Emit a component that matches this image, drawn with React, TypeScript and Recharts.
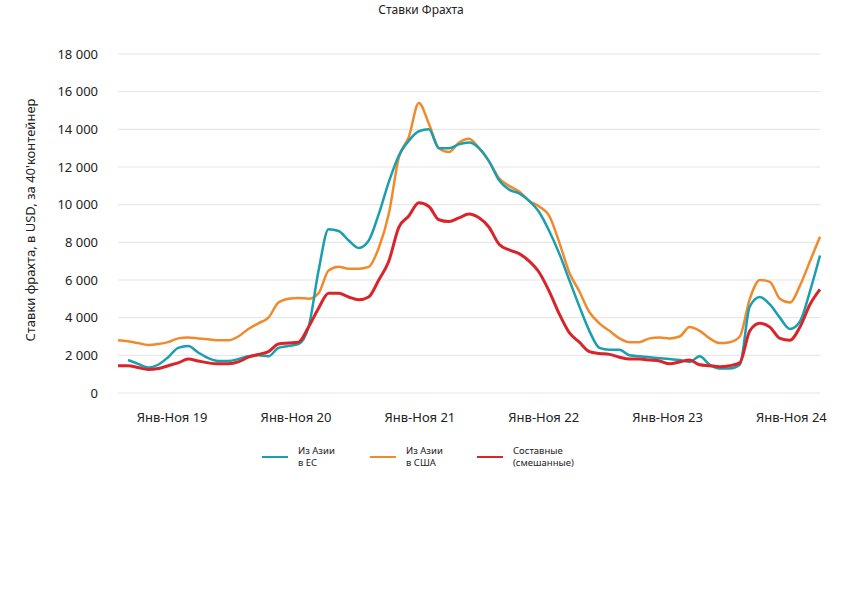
import React from "react";
import { LineChart, Line, XAxis, YAxis, CartesianGrid } from "recharts";

// monthly, Jan 2019 .. Nov 2024 (index 0..70)
const ASIA_EU: (number | null)[] = [
  null, 1750, 1550, 1350, 1500, 1900, 2400, 2500, 2150, 1850, 1700, 1700,
  1800, 1950, 2000, 1950, 2400, 2500, 2600, 3500, 6500, 8700, 8600, 8100,
  7700, 8100, 9500, 11200, 12600, 13400, 13900, 14000, 13000, 13000, 13200, 13300,
  13000, 12300, 11300, 10800, 10600, 10200, 9600, 8600, 7400, 6000, 4600, 3300,
  2400, 2300, 2300, 2000, 1950, 1900, 1850, 1800, 1750, 1650, 1950, 1500,
  1300, 1300, 1500, 4600, 5100, 4700, 4000, 3400, 3800, 5400, 7300,
];
const ASIA_US: number[] = [
  2800, 2750, 2650, 2550, 2600, 2700, 2900, 2950, 2900, 2850, 2800, 2800,
  3000, 3400, 3700, 4000, 4800, 5000, 5050, 5000, 5300, 6500, 6700, 6600,
  6600, 6700, 7700, 9500, 12500, 13600, 15400, 14300, 13000, 12800, 13300, 13500,
  13000, 12300, 11400, 11000, 10700, 10200, 9900, 9400, 8000, 6400, 5400, 4300,
  3700, 3300, 2900, 2700, 2700, 2900, 2950, 2900, 3000, 3500, 3300, 2900,
  2650, 2700, 3000, 5000, 6000, 5900, 5000, 4800, 5700, 7000, 8300,
];
const COMPOSITE: number[] = [
  1450, 1450, 1350, 1250, 1300, 1450, 1600, 1800, 1700, 1600, 1550, 1550,
  1650, 1900, 2050, 2200, 2600, 2650, 2700, 3500, 4500, 5300, 5300, 5100,
  4950, 5100, 6000, 7000, 8800, 9400, 10100, 9900, 9200, 9100, 9300, 9500,
  9300, 8800, 7900, 7600, 7400, 7000, 6400, 5400, 4200, 3200, 2700, 2200,
  2100, 2050, 1900, 1800, 1800, 1750, 1700, 1550, 1650, 1750, 1500, 1450,
  1400, 1450, 1600, 3300, 3700, 3500, 2900, 2800, 3500, 4700, 5500,
];
const YEAR_LABELS = ["Янв-Ноя 19", "Янв-Ноя 20", "Янв-Ноя 21", "Янв-Ноя 22", "Янв-Ноя 23", "Янв-Ноя 24"];
const Y_TICKS = [0, 2000, 4000, 6000, 8000, 10000, 12000, 14000, 16000, 18000];

const X_TICKS = YEAR_LABELS.map((_, k) => 5.4 + 12.35 * k);
const data = COMPOSITE.map((c, i) => ({ i, eu: ASIA_EU[i], us: ASIA_US[i], mix: c }));

const FONT = "'Noto Sans', sans-serif";
const fmt = (v: number) => (v === 0 ? "0" : `${Math.floor(v / 1000)} 000`);

const LEGEND = [
  { color: "#1a9fae", x: 262, text: ["Из Азии", "в ЕС"] },
  { color: "#f08a2c", x: 370, text: ["Из Азии", "в США"] },
  { color: "#d9242a", x: 477, text: ["Составные", "(смешанные)"] },
];

export default function App() {
  return (
    <div style={{ position: "absolute", left: 0, top: 0, width: 842, height: 595, background: "#fff", fontFamily: FONT }}>
      <div style={{ position: "absolute", top: 1, width: 842, textAlign: "center", fontSize: 12, color: "#222" }}>Ставки Фрахта</div>
      <div
        style={{
          position: "absolute", left: 30, top: 220, transform: "translate(-50%, -50%) rotate(-90deg)",
          whiteSpace: "nowrap", fontSize: 13, color: "#222",
        }}
      >
        Ставки фрахта, в USD, за 40'контейнер
      </div>
      <LineChart width={842} height={595} data={data} margin={{ top: 54, right: 22, left: 0, bottom: 0 }}>
        <CartesianGrid vertical={false} stroke="#e3e3e3" />
        <XAxis
          dataKey="i" type="number" domain={[0, 70]} ticks={X_TICKS} height={202}
          axisLine={false} tickLine={false} tickMargin={14}
          tickFormatter={(_, idx) => YEAR_LABELS[idx]}
          tick={{ fontSize: 13, fill: "#222", fontFamily: FONT }}
        />
        <YAxis
          width={118} domain={[0, 18000]} ticks={Y_TICKS} axisLine={false} tickLine={false}
          tickFormatter={fmt} tickMargin={14}
          tick={{ fontSize: 13, fill: "#222", fontFamily: FONT }}
        />
        <Line type="monotone" dataKey="us" stroke="#f08a2c" strokeWidth={2.5} dot={false} isAnimationActive={false} />
        <Line type="monotone" dataKey="eu" stroke="#1a9fae" strokeWidth={2.5} dot={false} isAnimationActive={false} />
        <Line type="monotone" dataKey="mix" stroke="#d9242a" strokeWidth={3} dot={false} isAnimationActive={false} />
      </LineChart>
      {LEGEND.map((l) => (
        <div key={l.x} style={{ position: "absolute", left: l.x, top: 445, display: "flex", alignItems: "center" }}>
          <div style={{ width: 26, height: 2.5, background: l.color, marginRight: 10 }} />
          <div style={{ fontSize: 9.5, lineHeight: "12px", color: "#222" }}>
            {l.text[0]}<br />{l.text[1]}
          </div>
        </div>
      ))}
    </div>
  );
}
